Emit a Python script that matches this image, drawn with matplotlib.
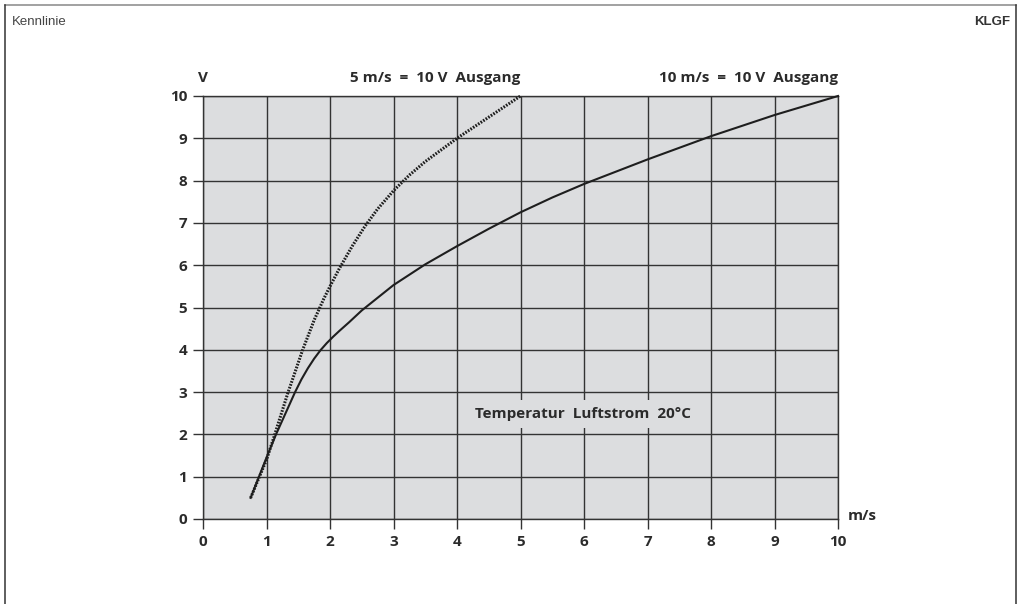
import matplotlib
matplotlib.use('Agg')
import matplotlib.pyplot as plt
from matplotlib.lines import Line2D

# Kennlinie KLGF - Ausgangsspannung ueber Luftgeschwindigkeit

# 10 m/s = 10 V Ausgang (durchgezogen)
speed_10 = [0.75, 1.0, 1.15, 1.45, 1.55, 1.65, 1.75, 1.85, 1.95, 2.05, 2.15, 2.3, 2.5, 3.0, 3.5, 4.0, 4.5, 5.0, 5.5, 6.0, 7.0, 8.0, 9.0, 10.0]
volt_10 = [0.5, 1.45, 2.0, 3.0, 3.3, 3.56, 3.79, 3.99, 4.16, 4.31, 4.45, 4.65, 4.93, 5.53, 6.02, 6.45, 6.86, 7.25, 7.6, 7.92, 8.5, 9.05, 9.55, 10.0]

# 5 m/s = 10 V Ausgang (gepunktet)
speed_5 = [0.75, 1.0, 1.12, 1.33, 1.57, 1.75, 1.9, 2.0, 2.15, 2.35, 2.55, 2.75, 3.0, 3.25, 3.5, 4.0, 4.5, 5.0]
volt_5 = [0.5, 1.4, 1.95, 2.95, 4.0, 4.7, 5.2, 5.5, 5.93, 6.45, 6.92, 7.33, 7.76, 8.13, 8.45, 9.0, 9.5, 10.0]

xticks = list(range(0, 11))
yticks = list(range(0, 11))

label_5 = '5 m/s  =  10 V  Ausgang'
label_10 = '10 m/s  =  10 V  Ausgang'
note = 'Temperatur  Luftstrom  20°C'

bg = '#dcdddf'
grid_col = '#333333'
txt_col = '#2b2b2b'

plt.rcParams['font.family'] = ['Open Sans', 'DejaVu Sans']
fw = 'bold'
fs = 11

fig = plt.figure(figsize=(10.22, 6.04), dpi=100)
ax = fig.add_axes([203/1022, 85/604, 635/1022, 423/604])
ax.set_facecolor(bg)

ax.plot(speed_10, volt_10, color='#1e1e1e', lw=1.5, zorder=3, clip_on=False)
ax.plot(speed_5, volt_5, color='#1e1e1e', lw=2.2, linestyle=(0, (0.55, 0.45)),
        dash_capstyle='butt', zorder=3, clip_on=False)

ax.set_xlim(0, 10)
ax.set_ylim(0, 10)
ax.set_xticks(xticks)
ax.set_yticks(yticks)
ax.grid(True, color=grid_col, lw=1.0, zorder=1)
ax.set_axisbelow(True)
for s in ax.spines.values():
    s.set_color(grid_col)
    s.set_linewidth(1.0)
ax.tick_params(axis='both', direction='out', length=7.5, width=1.0, color=grid_col,
               labelsize=fs, labelcolor=txt_col)
ax.tick_params(axis='x', pad=4)
ax.tick_params(axis='y', pad=4)
for lab in ax.get_xticklabels() + ax.get_yticklabels():
    lab.set_fontweight(fw)

ax.text(0, 10.43, 'V', ha='center', va='center', fontsize=fs, fontweight=fw,
        color=txt_col, clip_on=False)
ax.text(5, 10.43, label_5, ha='right', va='center', fontsize=fs, fontweight=fw,
        color=txt_col, clip_on=False)
ax.text(10, 10.43, label_10, ha='right', va='center', fontsize=fs, fontweight=fw,
        color=txt_col, clip_on=False)
ax.text(10.16, 0.07, 'm/s', ha='left', va='center', fontsize=fs, fontweight=fw,
        color=txt_col, clip_on=False)
ax.text(5.98, 2.48, note, ha='center', va='center', fontsize=fs, fontweight=fw,
        color=txt_col, zorder=4,
        bbox=dict(boxstyle='square,pad=0.45', facecolor=bg, edgecolor='none'))

# header and frame
fig.text(12/1022, 1 - 22/604, 'Kennlinie', ha='left', va='center', fontsize=9.5,
         color='#444444', family='Liberation Sans')
fig.text(1010/1022, 1 - 22/604, 'KLGF', ha='right', va='center', fontsize=9.5,
         fontweight='bold', color='#333333', family='Liberation Sans')
fig.add_artist(Line2D([4.5/1022, 1016/1022], [1 - 5/604, 1 - 5/604], color='#888888', lw=1.1))
fig.add_artist(Line2D([4.5/1022, 4.5/1022], [0, 1 - 5/604], color='#333333', lw=1.1))
fig.add_artist(Line2D([1016/1022, 1016/1022], [0, 1 - 5/604], color='#333333', lw=1.1))

fig.savefig('out.png', dpi=100, facecolor='white')
